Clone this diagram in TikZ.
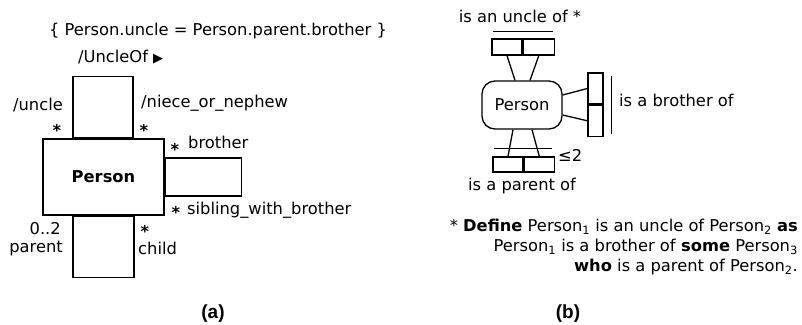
\documentclass[tikz,border=0pt]{standalone}
\usepackage{fontspec}
\setmainfont{DejaVu Sans}
\newfontfamily\capfont{Liberation Sans}
\usepackage{tikz}
\usetikzlibrary{positioning,calc}

\begin{document}
\fontsize{16.3}{20}\selectfont
\begin{tikzpicture}[x=1pt,y=-1pt,
  cls/.style={draw,line width=1.3pt,minimum width=121pt,minimum height=76pt,inner sep=0pt,font=\bfseries},
  assoc/.style={draw,line width=1.3pt,inner sep=0pt},
  ent/.style={draw,line width=1.3pt,rounded corners=13pt,minimum width=80pt,minimum height=48pt,inner sep=0pt},
  cell/.style={draw,line width=1.3pt,inner sep=0pt},
  uniq/.style={line width=1.2pt},
  mult/.style={inner sep=0pt,font=\bfseries},
  sub/.style={font=\capfont\bfseries\fontsize{19}{22}\selectfont}]
  \useasboundingbox (0,0) rectangle (802,324);
  % (a) compact association notation
  \node[cls] (person) at (103.5,177) {Person};
  \node[assoc,minimum width=60pt,minimum height=61pt,anchor=south west] (uncleof) at ($(person.north west)+(30,0)$) {};
  \node[assoc,minimum width=76pt,minimum height=38pt,anchor=west] (sibling) at (person.east) {};
  \node[assoc,minimum width=61pt,minimum height=61pt,anchor=north west] (parentof) at ($(person.south west)+(30,0)$) {};
  \node (rule) at (218,31) {\{ Person.uncle = Person.parent.brother \}};
  \node[anchor=west,inner sep=0pt] (uname) at (78,57) {/UncleOf {\fontsize{13}{13}\selectfont ▶}};
  \node[anchor=east,inner sep=0pt] (runcle) at (63,105) {/uncle};
  \node[anchor=west,inner sep=0pt] (rniece) at (141,103) {/niece\_or\_nephew};
  \node[mult] (m1) at (57,130) {*};
  \node[mult] (m2) at (144,130) {*};
  \node[mult] (m3) at (175,149) {*};
  \node[anchor=west,inner sep=0pt] (rbro) at (188,142) {brother};
  \node[mult] (m6) at (176,212) {*};
  \node[anchor=west,inner sep=0pt] (rsib) at (187,210) {sibling\_with\_brother};
  \node[anchor=east,inner sep=0pt] (m4) at (61,229) {0..2};
  \node[anchor=east,inner sep=0pt] (rpar) at (63,248) {parent};
  \node[mult] (m5) at (145,231) {*};
  \node[anchor=west,inner sep=0pt] (rchild) at (138,248) {child};
  \node[sub] (capa) at (213,314) {(a)};
  % (b) ORM style
  \node[ent] (pb) at (522,105) {Person};
  \node[cell,minimum width=30pt,minimum height=16pt] (uc1) at (507,47) {};
  \node[cell,minimum width=31pt,minimum height=16pt,right=0pt of uc1] (uc2) {};
  \node[cell,minimum width=15pt,minimum height=31pt] (br1) at (595.5,88.5) {};
  \node[cell,minimum width=15pt,minimum height=31pt,below=0pt of br1] (br2) {};
  \node[cell,minimum width=30pt,minimum height=15pt] (pc1) at (508,164.5) {};
  \node[cell,minimum width=30pt,minimum height=15pt,right=0pt of pc1] (pc2) {};
  \draw[line width=1.3pt] (uc1.south) -- ($(pb.north)+(-7,0)$);
  \draw[line width=1.3pt] (uc2.south) -- ($(pb.north)+(8,0)$);
  \draw[line width=1.3pt] ($(pb.east)+(0,-10)$) -- (br1.west);
  \draw[line width=1.3pt] ($(pb.east)+(0,10)$) -- (br2.west);
  \draw[line width=1.3pt] ($(pb.south)+(-9,0)$) -- (pc1.north);
  \draw[line width=1.3pt] ($(pb.south)+(10,0)$) -- (pc2.north);
  \draw[uniq] ($(uc1.north west)+(2,-7)$) -- ($(uc2.north east)+(-2,-7)$);
  \draw[uniq] ($(br1.north east)+(8,4)$) -- ($(br2.south east)+(8,-3)$);
  \draw[uniq] ($(pc1.north west)+(2,-8)$) -- ($(pc2.north east)+(-3,-8)$);
  \node (tuncle) at (520,16) {is an uncle of *};
  \node[anchor=west,inner sep=0pt] (tbro) at (619,100) {is a brother of};
  \node[anchor=west,inner sep=0pt] (tle) at ($(pc2.north east)+(3,-1)$) {≤2};
  \node (tpar) at (522,186) {is a parent of};
  \node[anchor=east,align=right,inner sep=0pt] (def) at (798,247)
    {* \textbf{Define} Person\textsubscript{1} is an uncle of Person\textsubscript{2} \textbf{as}\\
     Person\textsubscript{1} is a brother of \textbf{some} Person\textsubscript{3}\\
     \textbf{who} is a parent of Person\textsubscript{2}.};
  \node[sub] (capb) at (568,314) {(b)};
\end{tikzpicture}
\end{document}
